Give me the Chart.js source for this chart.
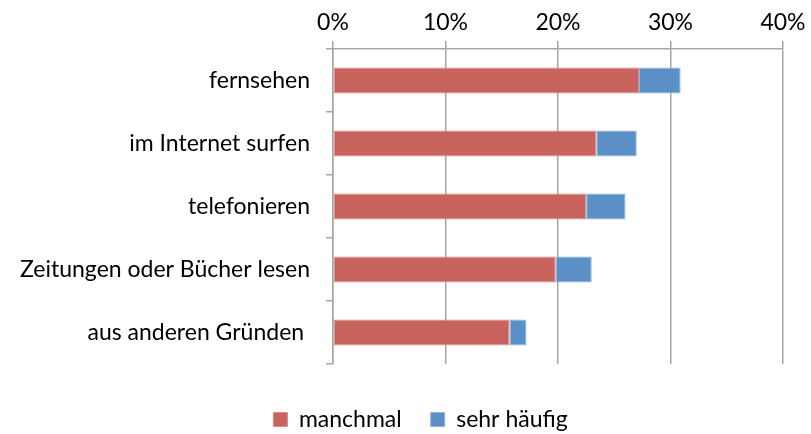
<!DOCTYPE html>
<html>
<head>
<meta charset="utf-8">
<script src="https://cdn.jsdelivr.net/npm/chart.js@4"></script>
<style>
  html, body { margin: 0; padding: 0; background: #fff; }
  #wrap { width: 811px; height: 434px; position: relative; }
</style>
</head>
<body>
<div id="wrap"><canvas id="usageChart"></canvas></div>
<script>
// Categories and values (percent)
const categories = ['fernsehen', 'im Internet surfen', 'telefonieren', 'Zeitungen oder Bücher lesen', 'aus anderen Gründen '];
const manchmal = [27.2, 23.4, 22.5, 19.8, 15.7];
const sehrHaeufig = [3.7, 3.6, 3.5, 3.2, 1.5];
const xTicks = [0, 10, 20, 30, 40];

const gridColor = '#a6a6a6';
const font = { family: 'Lato', size: 23 };

// nudge the legend so it sits where the original one does
const legendShift = {
  id: 'legendShift',
  afterLayout(chart) {
    const lg = chart.legend;
    if (!lg) return;
    lg.left += 29; lg.right += 29;
    lg.top += 15; lg.bottom += 15;
  }
};

function initializeUsageChart() {
  const ctx = document.getElementById('usageChart');
  if (!ctx) return;

  new Chart(ctx, {
    type: 'bar',
    data: {
      labels: categories,
      datasets: [
        {
          label: 'manchmal',
          data: manchmal,
          backgroundColor: '#c9635d',
          borderColor: '#d98d89',
          borderWidth: 1,
          borderSkipped: false
        },
        {
          label: 'sehr häufig',
          data: sehrHaeufig,
          backgroundColor: '#5b90c6',
          borderColor: '#8fb3da',
          borderWidth: 1,
          borderSkipped: false
        }
      ]
    },
    options: {
      indexAxis: 'y',
      responsive: true,
      maintainAspectRatio: false,
      animation: false,
      datasets: {
        bar: { categoryPercentage: 1, barPercentage: 0.41 }
      },
      layout: {
        padding: { left: 0, right: 28, top: 0, bottom: 8 }
      },
      plugins: {
        tooltip: { enabled: false },
        legend: {
          position: 'bottom',
          labels: {
            color: '#000',
            font: font,
            boxWidth: 14,
            boxHeight: 14,
            padding: 29
          }
        }
      },
      scales: {
        x: {
          position: 'top',
          stacked: true,
          min: 0,
          max: 40,
          afterBuildTicks: (scale) => {
            scale.ticks = xTicks.map(v => ({ value: v }));
          },
          afterFit: (scale) => { scale.height = 49; },
          ticks: {
            color: '#000',
            font: font,
            padding: 5,
            callback: (v) => v + '%'
          },
          grid: {
            color: gridColor,
            lineWidth: 1.5,
            tickLength: 8
          },
          border: { color: gridColor, width: 1.5 }
        },
        y: {
          stacked: true,
          afterFit: (scale) => { scale.width = 333; },
          ticks: {
            color: '#000',
            font: font,
            padding: 16
          },
          grid: {
            drawOnChartArea: false,
            color: gridColor,
            lineWidth: 1.5,
            tickLength: 7
          },
          border: { color: gridColor, width: 1.5 }
        }
      }
    },
    plugins: [legendShift]
  });
}

document.addEventListener('DOMContentLoaded', () => {
  initializeUsageChart();
});
</script>
</body>
</html>
